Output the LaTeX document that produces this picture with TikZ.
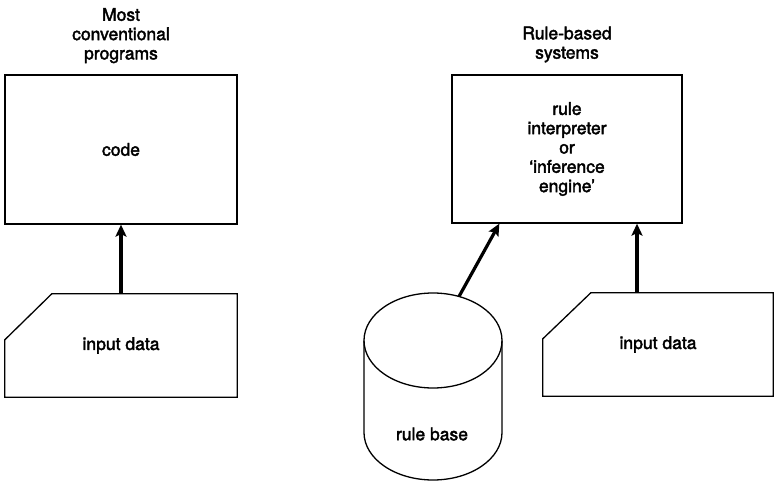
\documentclass[tikz,border=0pt]{standalone}
\usepackage{fontspec}
\setmainfont{TeX Gyre Heros}[RawFeature={embolden=2.2}]
\usetikzlibrary{arrows.meta,calc}
\begin{document}
\begin{tikzpicture}[x=1pt,y=-1pt,
  lbl/.style={font=\fontsize{17.5}{19.3}\selectfont, align=center, inner sep=0pt},
  frame/.style={draw, line width=1.3pt},
  outline/.style={line width=1.3pt, line join=miter},
  feed/.style={line width=3.2pt, -{Stealth[length=12pt,width=11pt,inset=2.5pt]}}]
\useasboundingbox (0,0) rectangle (774,481);

% column headings
\node[lbl] (ltitle) at (121,35.6) {Most\\conventional\\programs};
\node[lbl] (rtitle) at (567,44.5) {Rule-based\\systems};

% processing boxes
\node[frame, lbl, minimum width=232pt, minimum height=149pt] (code) at (121,149.5) {code};
\node[frame, lbl, minimum width=230pt, minimum height=148pt] (engine) at (567,149)
  {rule\\interpreter\\or\\‘inference\\engine’};

% input data cards with a clipped corner
\node[lbl, minimum width=232pt, minimum height=103pt] (ldata) at (121,345.5) {input data};
\draw[outline] ($(ldata.north west)+(47,0)$) -- (ldata.north east) -- (ldata.south east)
  -- (ldata.south west) -- ($(ldata.north west)+(0,46)$) -- cycle;

\node[lbl, minimum width=230pt, minimum height=103pt] (rdata) at (658,344.5) {input data};
\draw[outline] ($(rdata.north west)+(48,0)$) -- (rdata.north east) -- (rdata.south east)
  -- (rdata.south west) -- ($(rdata.north west)+(0,46)$) -- cycle;

% rule base drum
\coordinate (cyl) at (433,340.5);
\draw[outline] (cyl) ellipse [x radius=69, y radius=47.5];
\draw[outline] ($(cyl)+(-69,0)$) -- ++(0,92)
  arc[start angle=180, end angle=0, x radius=69, y radius=47.5] -- ($(cyl)+(69,0)$);
\node[lbl] (rules) at (432,434) {rule base};

% data flow
\coordinate (cyltop) at ($(cyl)+(26,-44)$);
\coordinate (rfoot) at (637,293);
\draw[feed] (ldata.north) -- (code.south);
\draw[feed] (cyltop) -- ($(engine.south west)+(48,0)$);
\draw[feed] (rfoot) -- (rfoot |- engine.south);
\end{tikzpicture}
\end{document}
